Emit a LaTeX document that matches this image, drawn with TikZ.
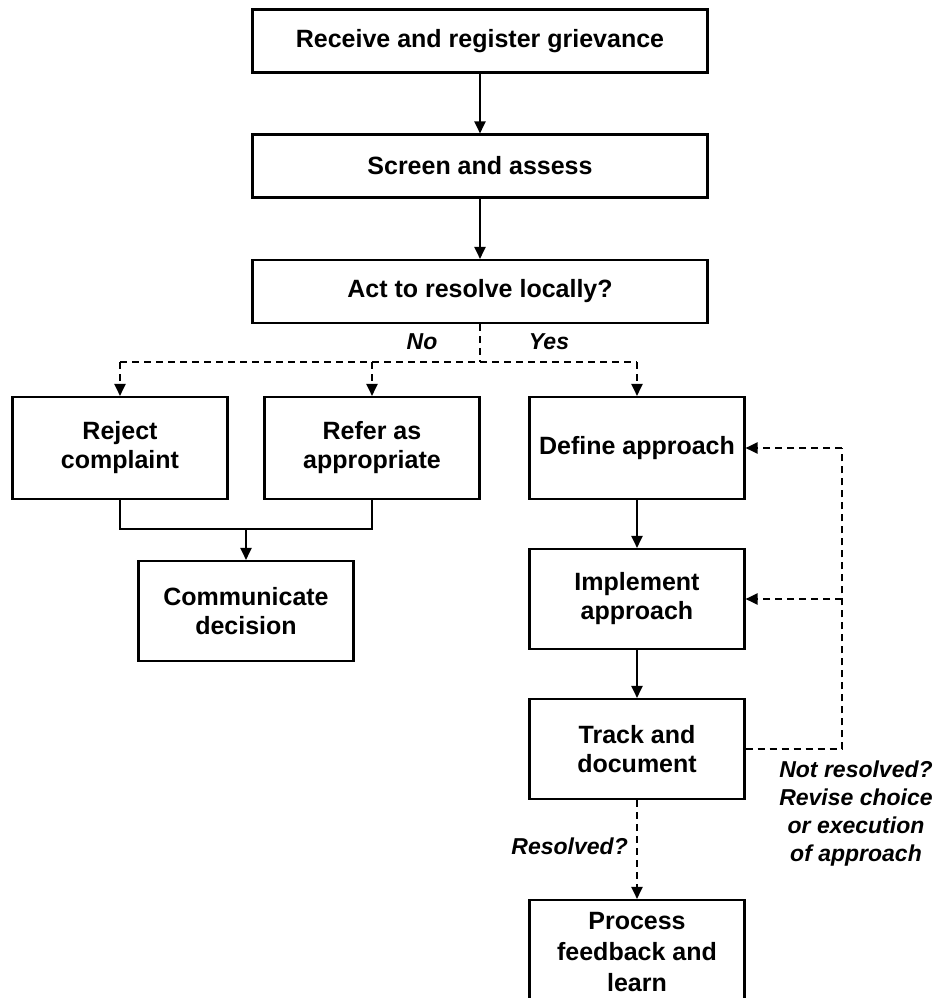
\documentclass[tikz,border=0pt]{standalone}
\usepackage{fontspec}
\setmainfont{Liberation Sans}
\usetikzlibrary{arrows.meta}
\begin{document}
\begin{tikzpicture}[x=1pt,y=-1pt,
  box/.style={draw, line width=2.1pt, minimum width=215pt, minimum height=100pt,
    align=center, inner sep=2pt, font=\fontsize{25}{29}\selectfont\bfseries},
  widebox/.style={box, minimum width=455pt, minimum height=63pt},
  lab/.style={inner sep=0pt, align=center, font=\fontsize{23}{27.7}\selectfont\bfseries\itshape},
  conn/.style={line width=2pt},
  arr/.style={conn, -{Triangle[length=12pt,width=11pt]}},
  dsh/.style={dash pattern=on 7pt off 5pt}
]
\useasboundingbox (0,0) rectangle (936,998);

\node[widebox] (rec) at (480,41) {Receive and register grievance};
\node[widebox] (scr) at (480,166) {Screen and assess};
\node[widebox] (act) at (480,291.5) {Act to resolve locally?};

\node[box, minimum height=102pt] (rej) at (120,448) {Reject\\complaint};
\node[box, minimum height=102pt] (ref) at (372,448) {Refer as\\appropriate};
\node[box, minimum height=102pt] (def) at (637,448) {Define approach};
\node[box] (com) at (246,611) {Communicate\\decision};
\node[box] (imp) at (637,599) {Implement\\approach};
\node[box] (trk) at (637,749) {Track and\\document};
\node[box, minimum height=104pt, font=\fontsize{25}{31}\selectfont\bfseries] (prc) at (637,952) {Process\\feedback and\\learn};

\draw[arr] (rec) -- (scr);
\draw[arr] (scr) -- (act);

\coordinate (split) at (480,362);
\draw[conn,dsh] (act.south) -- (split);
\draw[conn,dsh] (rej.north |- split) -- (def.north |- split);
\draw[arr,dsh] (rej.north |- split) -- (rej.north);
\draw[arr,dsh] (ref.north |- split) -- (ref.north);
\draw[arr,dsh] (def.north |- split) -- (def.north);
\node[lab] (no) at (422,342) {No};
\node[lab] (yes) at (549,342) {Yes};

\coordinate (jn) at (246,529);
\draw[conn] (rej.south) -- (rej.south |- jn) -- (ref.south |- jn) -- (ref.south);
\draw[arr] (jn) -- (com.north);

\draw[arr] (def) -- (imp);
\draw[arr] (imp) -- (trk);

\coordinate (rb) at (842,749);
\coordinate (rt) at (842,448);
\draw[conn,dsh] (trk.east) -- (rb) -- (rt);
\draw[arr,dsh] (rt) -- (def.east);
\draw[arr,dsh] (imp.east -| rb) -- (imp.east);
\node[lab] (notres) at (856,813.5) {Not resolved?\\Revise choice\\or execution\\of approach};

\draw[arr,dsh] (trk) -- (prc);
\node[lab, anchor=east] (res) at (628,846) {Resolved?};
\end{tikzpicture}
\end{document}
